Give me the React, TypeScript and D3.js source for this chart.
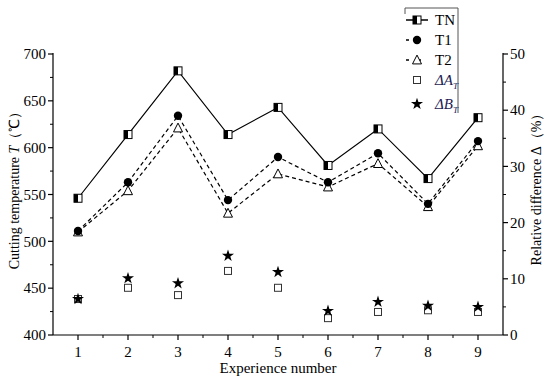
import React from "react";
import * as d3 from "d3";

const experiments = [1, 2, 3, 4, 5, 6, 7, 8, 9];
const TN = [546, 614, 682, 614, 643, 581, 620, 567, 632];
const T1 = [511, 563, 634, 544, 590, 563, 594, 540, 607];
const T2 = [510, 554, 621, 530, 572, 558, 583, 537, 602];
const dA = [6.4, 8.4, 7.1, 11.4, 8.4, 3.0, 4.1, 4.4, 4.1];
const dB = [6.4, 10.1, 9.2, 14.1, 11.2, 4.3, 5.9, 5.2, 5.0];
const leftTicks = [400, 450, 500, 550, 600, 650, 700];
const rightTicks = [0, 10, 20, 30, 40, 50];

const W = 550, H = 379;
const L = 53, R = 503, T = 54, B = 335;
const FONT = "Liberation Serif, Times New Roman, serif";

function HalfSquare({ x, y, s = 8 }: { x: number; y: number; s?: number }) {
  return (
    <g>
      <rect x={x - s / 2} y={y - s / 2} width={s} height={s} fill="#fff" stroke="#000" strokeWidth={1} />
      <rect x={x - s / 2} y={y - s / 2} width={s / 2} height={s} fill="#000" />
    </g>
  );
}

function Triangle({ x, y, s = 9 }: { x: number; y: number; s?: number }) {
  const h = s * 0.87;
  return (
    <path
      d={`M${x},${y - h / 2 - 1}L${x + s / 2},${y + h / 2}L${x - s / 2},${y + h / 2}Z`}
      fill="#fff"
      stroke="#000"
      strokeWidth={1}
    />
  );
}

const starPath = d3.symbol().type(d3.symbolStar).size(45)() as string;

export default function App() {
  const x = d3.scaleLinear().domain([0.5, 9.5]).range([L, R]);
  const yL = d3.scaleLinear().domain([400, 700]).range([B, T]);
  const yR = d3.scaleLinear().domain([0, 50]).range([B, T]);
  const lineL = (vals: number[]) =>
    d3.line<number>().x((_, i) => x(experiments[i])).y((v) => yL(v))(vals) as string;

  const xMinor = d3.range(1.5, 9.5, 1);
  const lMinor = d3.range(425, 700, 50);
  const rMinor = d3.range(5, 50, 10);

  const legendY = [20, 40, 60, 80, 104];

  return (
    <svg width={W} height={H} style={{ position: "absolute", left: 0, top: 0, background: "#fff" }} fontFamily={FONT}>
      {/* Axes */}
      <line x1={L} y1={T - 1} x2={L} y2={B} stroke="#000" strokeWidth={1.2} />
      <line x1={R} y1={T - 1} x2={R} y2={B} stroke="#000" strokeWidth={1.2} />
      <line x1={L} y1={B} x2={R} y2={B} stroke="#000" strokeWidth={1.2} />

      {/* Left ticks */}
      {leftTicks.map((t) => (
        <g key={"l" + t}>
          <line x1={L - 5} x2={L} y1={yL(t)} y2={yL(t)} stroke="#000" strokeWidth={1.2} />
          <text x={L - 7} y={yL(t)} dy="0.35em" textAnchor="end" fontSize={15}>{t}</text>
        </g>
      ))}
      {lMinor.map((t) => (
        <line key={"lm" + t} x1={L - 3} x2={L} y1={yL(t)} y2={yL(t)} stroke="#000" strokeWidth={1} />
      ))}

      {/* Right ticks */}
      {rightTicks.map((t) => (
        <g key={"r" + t}>
          <line x1={R} x2={R + 5} y1={yR(t)} y2={yR(t)} stroke="#000" strokeWidth={1.2} />
          <text x={R + 7} y={yR(t)} dy="0.35em" textAnchor="start" fontSize={15}>{t}</text>
        </g>
      ))}
      {rMinor.map((t) => (
        <line key={"rm" + t} x1={R} x2={R + 3} y1={yR(t)} y2={yR(t)} stroke="#000" strokeWidth={1} />
      ))}

      {/* X ticks */}
      {experiments.map((e) => (
        <g key={"x" + e}>
          <line x1={x(e)} x2={x(e)} y1={B} y2={B + 5} stroke="#000" strokeWidth={1.2} />
          <text x={x(e)} y={B + 22} textAnchor="middle" fontSize={15}>{e}</text>
        </g>
      ))}
      {xMinor.map((e) => (
        <line key={"xm" + e} x1={x(e)} x2={x(e)} y1={B} y2={B + 3} stroke="#000" strokeWidth={1} />
      ))}

      {/* Axis titles */}
      <text x={(L + R) / 2} y={B + 38} textAnchor="middle" fontSize={15}>Experience number</text>
      <text transform={`translate(19,187) rotate(-90)`} textAnchor="middle" fontSize={14}>
        Cutting temperature <tspan fontStyle="italic">T</tspan>（℃）
      </text>
      <text transform={`translate(541,186) rotate(-90)`} textAnchor="middle" fontSize={14}>
        Relative difference Δ（%）
      </text>

      {/* Lines */}
      <path d={lineL(TN)} fill="none" stroke="#000" strokeWidth={1.2} />
      <path d={lineL(T1)} fill="none" stroke="#000" strokeWidth={1.2} strokeDasharray="4,3" />
      <path d={lineL(T2)} fill="none" stroke="#000" strokeWidth={1.2} strokeDasharray="4,3" />

      {/* Markers */}
      {T2.map((v, i) => (
        <Triangle key={"t2" + i} x={x(experiments[i])} y={yL(v)} />
      ))}
      {T1.map((v, i) => (
        <circle key={"t1" + i} cx={x(experiments[i])} cy={yL(v)} r={4.2} fill="#000" />
      ))}
      {TN.map((v, i) => (
        <HalfSquare key={"tn" + i} x={x(experiments[i])} y={yL(v)} />
      ))}
      {dA.map((v, i) => (
        <rect key={"da" + i} x={x(experiments[i]) - 3.5} y={yR(v) - 3.5} width={7} height={7} fill="none" stroke="#333" strokeWidth={1} />
      ))}
      {dB.map((v, i) => (
        <path key={"db" + i} d={starPath} transform={`translate(${x(experiments[i])},${yR(v)})`} fill="#000" />
      ))}

      {/* Legend */}
      <g>
        <line x1={405} y1={8} x2={458} y2={8} stroke="#555" strokeWidth={1} />
        <line x1={405} y1={8} x2={405} y2={14} stroke="#555" strokeWidth={1} />
        <line x1={458} y1={8} x2={458} y2={113} stroke="#555" strokeWidth={1} />

        <line x1={406} x2={428} y1={legendY[0]} y2={legendY[0]} stroke="#000" strokeWidth={1.5} />
        <HalfSquare x={417} y={legendY[0]} />
        <text x={435} y={legendY[0]} dy="0.35em" fontSize={15}>TN</text>

        <line x1={406} x2={428} y1={legendY[1]} y2={legendY[1]} stroke="#000" strokeWidth={1.5} strokeDasharray="3,9" />
        <circle cx={417} cy={legendY[1]} r={4.2} fill="#000" />
        <text x={435} y={legendY[1]} dy="0.35em" fontSize={15}>T1</text>

        <line x1={406} x2={428} y1={legendY[2]} y2={legendY[2]} stroke="#000" strokeWidth={1.5} strokeDasharray="3,9" />
        <Triangle x={417} y={legendY[2]} />
        <text x={435} y={legendY[2]} dy="0.35em" fontSize={15}>T2</text>

        <rect x={413.5} y={legendY[3] - 3.5} width={7} height={7} fill="none" stroke="#333" strokeWidth={1} />
        <text x={435} y={legendY[3]} dy="0.35em" fontSize={15} fill="#1c1c55" fontStyle="italic">
          ΔA<tspan fontSize={9} dy="4">T</tspan>
        </text>

        <path d={starPath} transform={`translate(417,${legendY[4]})`} fill="#000" />
        <text x={435} y={legendY[4]} dy="0.35em" fontSize={15} fill="#1c1c55" fontStyle="italic">
          ΔB<tspan fontSize={9} dy="4">T</tspan>
        </text>
      </g>
    </svg>
  );
}
